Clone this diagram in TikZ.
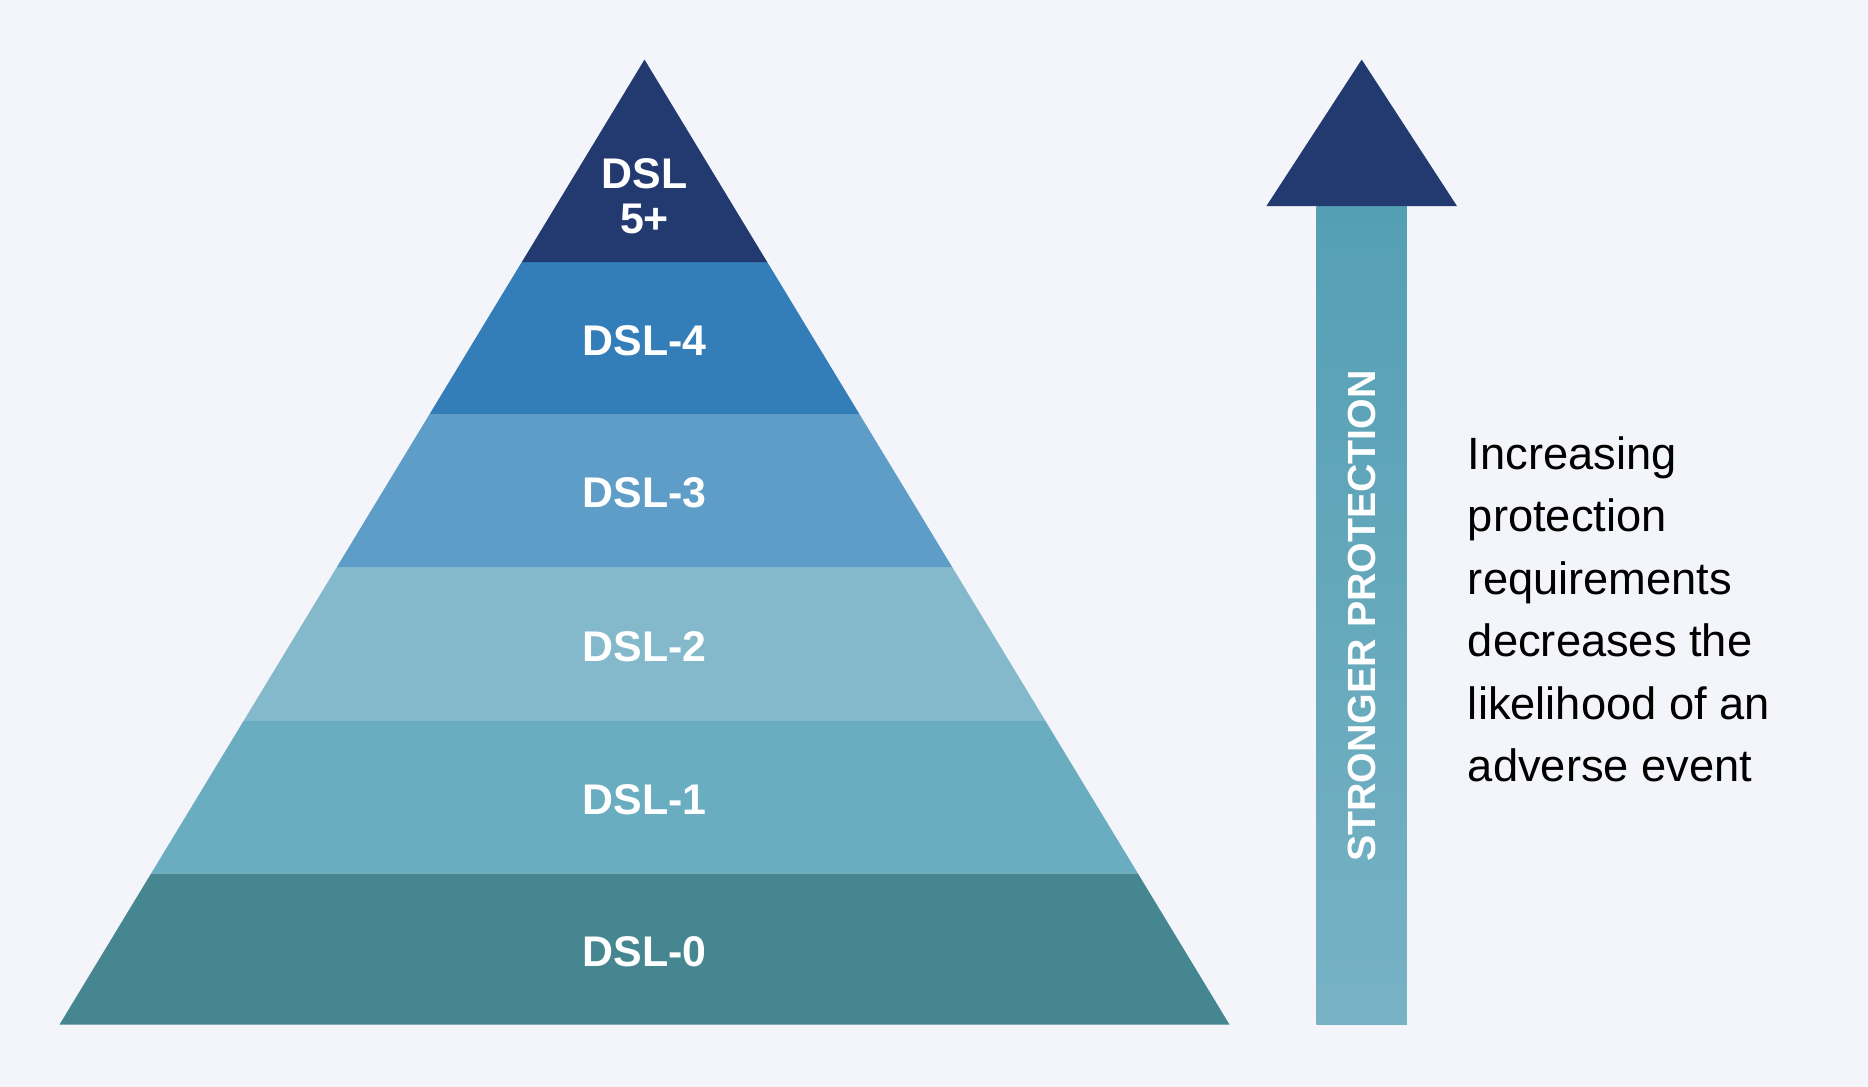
\documentclass[tikz,border=0pt]{standalone}
\usepackage{fontspec}
\setmainfont{Liberation Sans}
\usepackage{tikz}
\definecolor{bgcol}{HTML}{F3F5FA}
\definecolor{navy}{HTML}{233A70}
\definecolor{bandd}{HTML}{337DB8}
\definecolor{bandc}{HTML}{5E9DC8}
\definecolor{bandb}{HTML}{84B9CB}
\definecolor{banda}{HTML}{6BADC0}
\definecolor{bandz}{HTML}{468690}
\pgfdeclareverticalshading{protect}{76bp}{color(0bp)=(bandz); color(80bp)=(bandb!90!bandz); color(300bp)=(bandb); color(460bp)=(bandd!60!cyan!70!black); color(600bp)=(bandd!60!navy); color(687bp)=(navy)}
\tikzset{lvl/.style={text=white,font=\bfseries\fontsize{36}{38}\selectfont,align=center}}
\begin{document}
\begin{tikzpicture}[x=1pt,y=1pt,yscale=-1,xscale=1]
\fill[bgcol] (0,0) rectangle (1568,912);
% pyramid bands
\foreach \ya/\yb/\col/\name/\txt in {733/860/bandz/d0/DSL-0,605/733/banda/d1/DSL-1,476/605/bandb/d2/DSL-2,348/476/bandc/d3/DSL-3,220/348/bandd/d4/DSL-4}{
  \fill[\col] ({541-(\ya-50)*0.6062},\ya) -- ({541+(\ya-50)*0.6062},\ya) -- ({541+(\yb-50)*0.6062},\yb) -- ({541-(\yb-50)*0.6062},\yb) -- cycle;
  \node[lvl] (\name) at (541,{(\ya+\yb)/2+2}) {\txt};
}
\fill[navy] (541,50) -- (644,220) -- (438,220) -- cycle;
\node[lvl] (d5) at (541,165) {DSL\\5+};
% arrow
\shade[shading=protect] (1105,173) rectangle (1181,860);
\fill[navy] (1063,173) -- (1143,50) -- (1223,173) -- cycle;
\node[rotate=90,text=white,font=\bfseries\fontsize{33}{35}\selectfont] (prot) at (1143,517) {STRONGER PROTECTION};
% note
\node[anchor=north west,align=left,font=\fontsize{38}{52.5}\selectfont,inner sep=0pt] (note) at (1232,366) {Increasing\\protection\\requirements\\decreases the\\likelihood of an\\adverse event};
\end{tikzpicture}
\end{document}
